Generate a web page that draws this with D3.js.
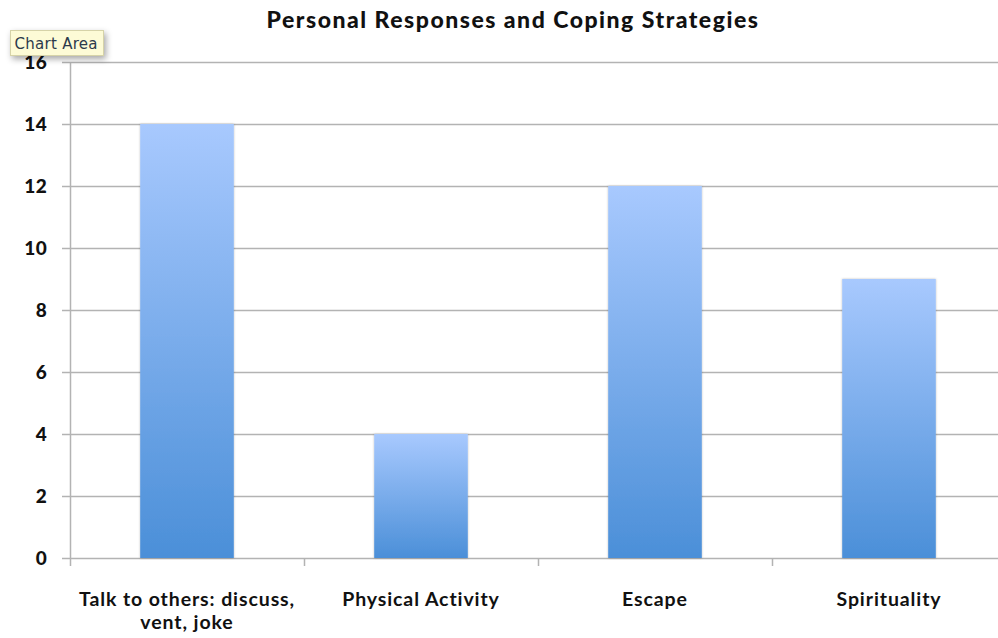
<!DOCTYPE html>
<html>
<head>
<meta charset="utf-8">
<script src="https://cdn.jsdelivr.net/npm/d3@7"></script>
<style>
  html, body { margin: 0; padding: 0; background: #fff; overflow: hidden; }
  svg { display: block; font-family: Lato, "Open Sans", sans-serif; }
</style>
</head>
<body>
<svg id="chart" width="998" height="638"></svg>
<script>
// Coping strategy counts
const categories = [["Talk to others: discuss,", "vent, joke"], ["Physical Activity"], ["Escape"], ["Spirituality"]];
const values = [14, 4, 12, 9];
const yTicks = [0, 2, 4, 6, 8, 10, 12, 14, 16];
const title = "Personal Responses and Coping Strategies";

const svg = d3.select("#chart");
const plotLeft = 70, plotRight = 1006, plotTop = 62, plotBottom = 558;

const x = d3.scaleBand().domain(d3.range(categories.length)).range([plotLeft, plotRight]).paddingInner(0.6).paddingOuter(0.3);
const band = d3.scaleBand().domain(d3.range(categories.length)).range([plotLeft, plotRight]);
const y = d3.scaleLinear().domain([0, 16]).range([plotBottom, plotTop]);

// Bar gradient
const defs = svg.append("defs");
const grad = defs.append("linearGradient").attr("id", "barGrad").attr("x1", 0).attr("y1", 0).attr("x2", 0).attr("y2", 1);
grad.append("stop").attr("offset", "0%").attr("stop-color", "#a8c9fe");
grad.append("stop").attr("offset", "100%").attr("stop-color", "#4b8fd8");
const shadow = defs.append("filter").attr("id", "barShadow").attr("x", "-10%").attr("y", "-10%").attr("width", "120%").attr("height", "120%");
shadow.append("feDropShadow").attr("dx", 0).attr("dy", 0).attr("stdDeviation", 1.2).attr("flood-color", "#000").attr("flood-opacity", 0.25);
const tip = defs.append("filter").attr("id", "tipShadow").attr("x", "-20%").attr("y", "-30%").attr("width", "150%").attr("height", "180%");
tip.append("feDropShadow").attr("dx", 2).attr("dy", 3).attr("stdDeviation", 3).attr("flood-color", "#000").attr("flood-opacity", 0.35);

// Gridlines
svg.append("g").selectAll("line").data(yTicks).join("line")
  .attr("x1", plotLeft - 8).attr("x2", 998)
  .attr("y1", d => y(d) + 0.5).attr("y2", d => y(d) + 0.5)
  .attr("stroke", "#b3b3b3").attr("stroke-width", 1.5);

// Y axis line
svg.append("line").attr("x1", plotLeft + 0.5).attr("x2", plotLeft + 0.5)
  .attr("y1", plotTop).attr("y2", plotBottom + 8)
  .attr("stroke", "#b3b3b3").attr("stroke-width", 1.5);

// Category tick marks
svg.append("g").selectAll("line").data(d3.range(1, categories.length)).join("line")
  .attr("x1", d => band(d) + 0.5).attr("x2", d => band(d) + 0.5)
  .attr("y1", plotBottom).attr("y2", plotBottom + 8)
  .attr("stroke", "#b3b3b3").attr("stroke-width", 1.5);

// Bars
svg.append("g").selectAll("rect").data(values).join("rect")
  .attr("x", (d, i) => x(i)).attr("width", x.bandwidth())
  .attr("y", d => y(d)).attr("height", d => y(0) - y(d))
  .attr("fill", "url(#barGrad)").attr("filter", "url(#barShadow)");

// Y tick labels
svg.append("g").selectAll("text").data(yTicks).join("text")
  .attr("x", 47).attr("y", d => y(d) + 7)
  .attr("text-anchor", "end").attr("font-weight", "900").attr("font-size", 19)
  .attr("letter-spacing", 0.3)
  .attr("fill", "#111").text(d => d);

// X category labels
const xl = svg.append("g").selectAll("text").data(categories).join("text")
  .attr("text-anchor", "middle").attr("font-weight", "bold").attr("font-size", 19.5)
  .attr("letter-spacing", 0.9).attr("fill", "#111")
  .attr("x", (d, i) => band(i) + band.bandwidth() / 2).attr("y", 606);
xl.selectAll("tspan").data(d => d).join("tspan")
  .attr("x", function() { return this.parentNode.getAttribute("x"); })
  .attr("dy", (d, i) => i === 0 ? 0 : 23).text(d => d);

// Title
svg.append("text").attr("x", 513).attr("y", 28).attr("text-anchor", "middle")
  .attr("font-weight", "900").attr("font-size", 23).attr("letter-spacing", 1.5)
  .attr("fill", "#111").text(title);

// Tooltip label
const tg = svg.append("g").attr("transform", "translate(10.5,30.5)");
tg.append("rect").attr("width", 93).attr("height", 25).attr("fill", "#fdfbd6")
  .attr("stroke", "#d6d3a8").attr("filter", "url(#tipShadow)");
tg.append("text").attr("x", 4).attr("y", 18).attr("font-size", 15).attr("fill", "#2c3a4c")
  .attr("font-family", "'DejaVu Sans', sans-serif").attr("textLength", 83).text("Chart Area");
</script>
</body>
</html>
